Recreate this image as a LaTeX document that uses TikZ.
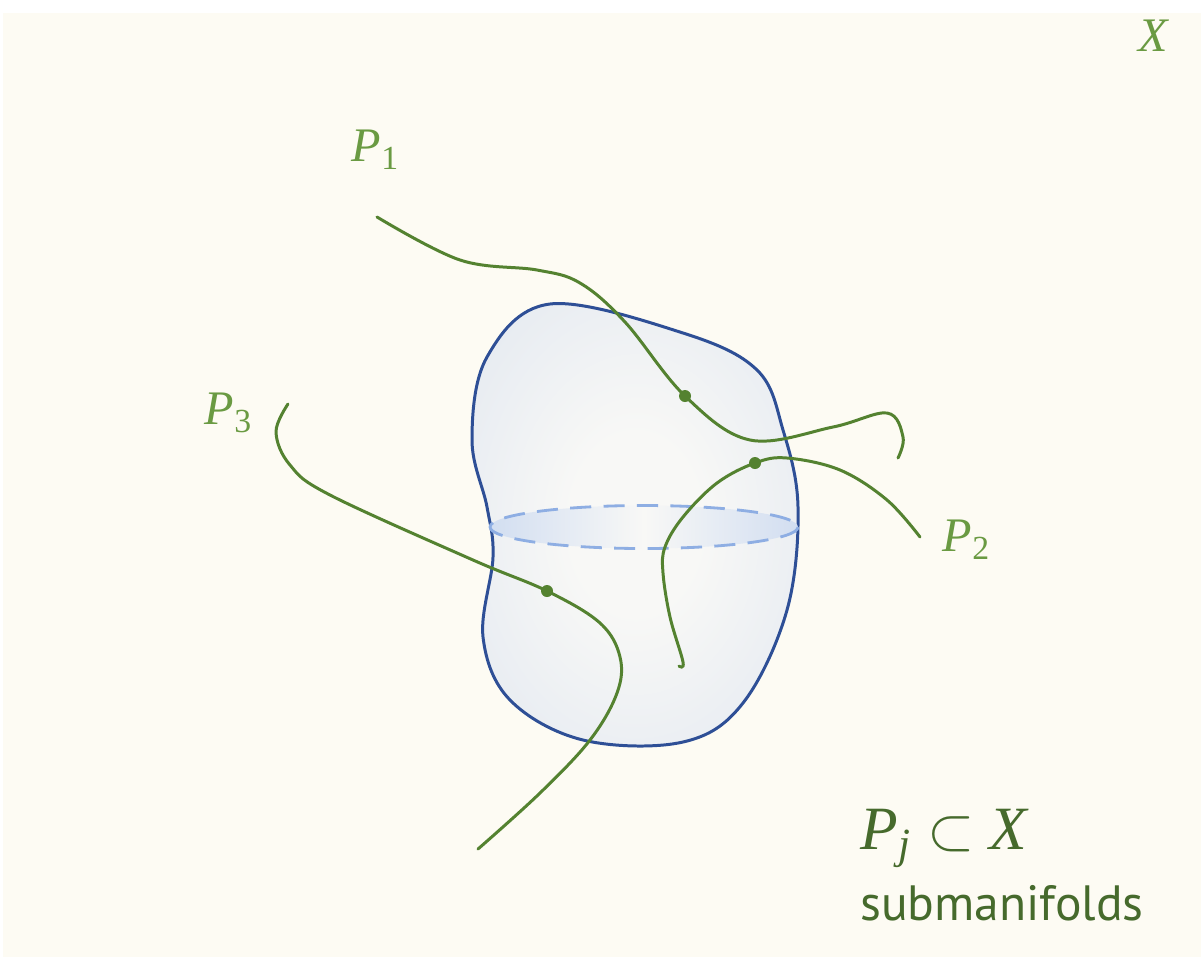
\documentclass[tikz,border=0pt]{standalone}
\usepackage{fontspec}
\setmainfont{Liberation Serif}
\newfontfamily\notesans{PT Sans}

\definecolor{paper}{HTML}{FDFBF3}
\definecolor{curvegreen}{HTML}{548230}
\definecolor{labelgreen}{HTML}{6A9A42}
\definecolor{notegreen}{HTML}{466A2C}
\definecolor{blobline}{HTML}{2E4F96}
\definecolor{blobin}{HTML}{F8F8F6}
\definecolor{blobout}{HTML}{DAE2EE}
\definecolor{ringline}{HTML}{8EAEE3}
\definecolor{ringfill}{HTML}{D2DEF1}

\pgfdeclareradialshading{blobshade}{\pgfpoint{0bp}{0bp}}{%
  color(0bp)=(blobin); color(10bp)=(blobin);
  color(46bp)=(blobout); color(50bp)=(blobout)}

\begin{document}
\begin{tikzpicture}[
    x=0.01cm, y=-0.01cm,
    sub/.style={draw=curvegreen, line width=0.85pt, line cap=round},
    spot/.style={fill=curvegreen},
    lbl/.style={text=labelgreen, font=\fontsize{13.7}{16}\selectfont\itshape, inner sep=0pt},
    note/.style={text=notegreen, inner sep=0pt},
]

    % the ambient space X
    \useasboundingbox (0,0) rectangle (1204,957);
    \fill[paper] (3,13) rectangle (1201,957);

    % the blob and its waist
    \path[shading=blobshade, draw=blobline, line width=0.85pt]
        plot[smooth cycle, tension=0.6] coordinates {
        (550,304) (683,333) (757,370) (783,430) (798,507) (787,610)
        (743,703) (683,742) (583,740) (510,700) (483,637) (493,557)
        (487,507) (472,440) (487,357)};
    \path[left color=ringfill, right color=ringfill, middle color=blobin,
          draw=ringline, dash pattern=on 6pt off 3.5pt, line width=0.8pt]
        (644,527) ellipse (154 and 21.5);

    % submanifolds
    \draw[sub] plot[smooth, tension=0.6] coordinates {
        (377,217) (460,260) (537,270) (580,283) (625,322) (685,396)
        (750,440) (833,427) (887,413) (903,437) (898,458)};
    \draw[sub] plot[smooth, tension=0.6] coordinates {
        (920,537) (887,500) (840,470) (787,458) (755,463) (717,483)
        (683,517) (665,547) (663,573) (670,617) (683,662) (679,666)};
    \draw[sub] plot[smooth, tension=0.6] coordinates {
        (288,404) (276,432) (290,465) (330,495) (473,560) (547,591)
        (600,623) (620,657) (617,693) (590,740) (540,793) (478,849)};

    \coordinate (q1) at (685,396);
    \coordinate (q2) at (755,463);
    \coordinate (q3) at (547,591);
    \foreach \q in {q1,q2,q3}
        \fill[spot] (\q) circle (6);

    % labels
    \node[lbl] (p1) at (376,150) {P\textsubscript{\upshape 1}};
    \node[lbl] (p2) at (967,540) {P\textsubscript{\upshape 2}};
    \node[lbl] (p3) at (229,413) {P\textsubscript{\upshape 3}};
    \node[lbl] (x) at (1153,36) {X};
    \node[note, font=\fontsize{17.5}{20}\selectfont] (incl) at (945,838)
        {\textit{P}\textsubscript{\textit{j}} $\subset$ \textit{X}};
    \node[note, font=\notesans\fontsize{14.1}{17}\selectfont] (word) at (1002,903)
        {submanifolds};

\end{tikzpicture}
\end{document}
